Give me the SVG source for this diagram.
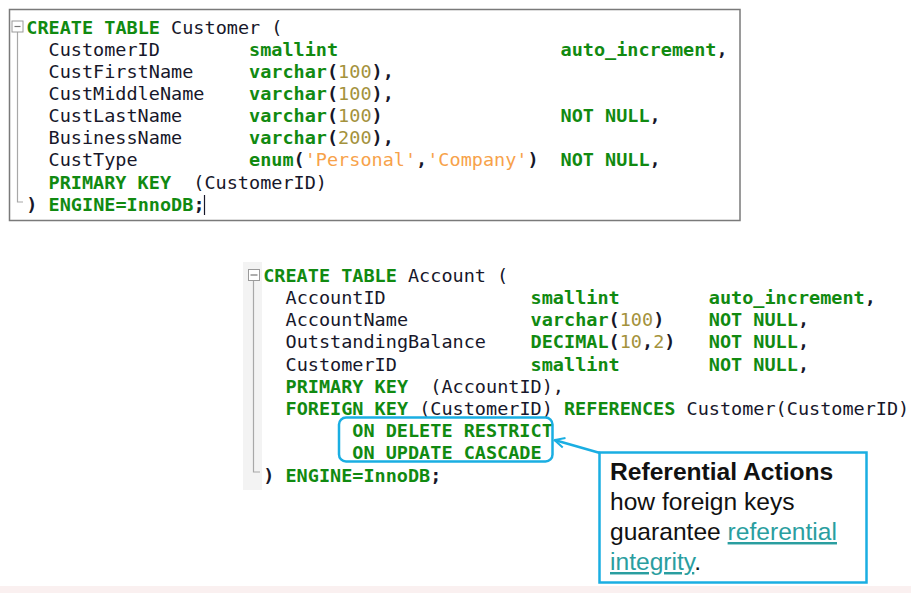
<svg xmlns="http://www.w3.org/2000/svg" width="911" height="593" viewBox="0 0 911 593">
<style>
  .code{font-family:"DejaVu Sans Mono","Liberation Mono",monospace;font-size:18.5px;white-space:pre;fill:#17172a}
  .kw{fill:#118a11;font-weight:bold}
  .pn{font-weight:bold;fill:#17172a}
  .num{fill:#a4923c}
  .str{fill:#f7a24a}
  .fold{fill:#ffffff;stroke:#9a9a9a;stroke-width:1}
  .foldline{fill:none;stroke:#a8a8a8;stroke-width:1.2}
  .hl{fill:none;stroke:#1aaee2;stroke-width:2.5}
  .note{font-family:"Liberation Sans",Arial,sans-serif;font-size:24.6px;fill:#111111}
  .link{fill:#2a9ea0;text-decoration:underline}
</style>
<defs>
  <marker id="open" viewBox="0 0 12 12" refX="11" refY="6" markerWidth="12" markerHeight="12" markerUnits="userSpaceOnUse" orient="auto">
    <path d="M1,1 L11,6 L1,11" fill="none" stroke="#1aaee2" stroke-width="2"/>
  </marker>
</defs>
<rect x="0" y="0" width="911" height="593" fill="#ffffff"/>
<rect x="0" y="586" width="911" height="7" fill="#faf0f0"/>

<g id="table-customer">
  <rect x="9.5" y="9.5" width="730.5" height="211" fill="#ffffff" stroke="#7a7a7a" stroke-width="1.5"/>
  <path class="foldline" d="M17.5,31 V202 H23"/>
  <rect class="fold" x="12" y="21" width="11" height="11"/>
  <path d="M14.5,26.5 H20.5" stroke="#777" stroke-width="1.2"/>
  <text class="code" xml:space="preserve" x="26.3" y="33.5"><tspan class="kw">CREATE TABLE</tspan> Customer (</text>
  <text class="code" y="55.65"><tspan x="48.5">CustomerID</tspan><tspan x="249" class="kw">smallint</tspan><tspan x="560.5" class="kw">auto_increment</tspan><tspan class="pn">,</tspan></text>
  <text class="code" y="77.8"><tspan x="48.5">CustFirstName</tspan><tspan x="249" class="kw">varchar</tspan><tspan class="pn">(</tspan><tspan class="num">100</tspan><tspan class="pn">),</tspan></text>
  <text class="code" y="99.95"><tspan x="48.5">CustMiddleName</tspan><tspan x="249" class="kw">varchar</tspan><tspan class="pn">(</tspan><tspan class="num">100</tspan><tspan class="pn">),</tspan></text>
  <text class="code" y="122.1"><tspan x="48.5">CustLastName</tspan><tspan x="249" class="kw">varchar</tspan><tspan class="pn">(</tspan><tspan class="num">100</tspan><tspan class="pn">)</tspan><tspan x="560.5" class="kw">NOT NULL</tspan><tspan class="pn">,</tspan></text>
  <text class="code" y="144.25"><tspan x="48.5">BusinessName</tspan><tspan x="249" class="kw">varchar</tspan><tspan class="pn">(</tspan><tspan class="num">200</tspan><tspan class="pn">),</tspan></text>
  <text class="code" y="166.4"><tspan x="48.5">CustType</tspan><tspan x="249" class="kw">enum</tspan><tspan class="pn">(</tspan><tspan class="str">'Personal'</tspan><tspan class="pn">,</tspan><tspan class="str">'Company'</tspan><tspan class="pn">)</tspan><tspan x="560.5" class="kw">NOT NULL</tspan><tspan class="pn">,</tspan></text>
  <text class="code" xml:space="preserve" x="48.5" y="188.55"><tspan class="kw">PRIMARY KEY</tspan>  (CustomerID)</text>
  <text class="code" xml:space="preserve" x="26.3" y="210.7"><tspan class="pn">)</tspan> <tspan class="kw">ENGINE=InnoDB</tspan><tspan class="pn">;</tspan></text>
  <path d="M204.5,195 V215" stroke="#17172a" stroke-width="1.2"/>
</g>

<g id="table-account">
  <rect x="243" y="262" width="19" height="228" fill="#f3f3f3"/>
  <path class="foldline" d="M253.5,280 V472 H260"/>
  <rect class="fold" x="248.5" y="269.5" width="11" height="11"/>
  <path d="M250.5,275 H257.5" stroke="#777" stroke-width="1.2"/>
  <text class="code" xml:space="preserve" x="263.2" y="281.7"><tspan class="kw">CREATE TABLE</tspan> Account (</text>
  <text class="code" y="303.9"><tspan x="285.5">AccountID</tspan><tspan x="530.6" class="kw">smallint</tspan><tspan x="708.8" class="kw">auto_increment</tspan><tspan class="pn">,</tspan></text>
  <text class="code" y="326.1"><tspan x="285.5">AccountName</tspan><tspan x="530.6" class="kw">varchar</tspan><tspan class="pn">(</tspan><tspan class="num">100</tspan><tspan class="pn">)</tspan><tspan x="708.8" class="kw">NOT NULL</tspan><tspan class="pn">,</tspan></text>
  <text class="code" y="348.3"><tspan x="285.5">OutstandingBalance</tspan><tspan x="530.6" class="kw">DECIMAL</tspan><tspan class="pn">(</tspan><tspan class="num">10</tspan><tspan class="pn">,</tspan><tspan class="num">2</tspan><tspan class="pn">)</tspan><tspan x="708.8" class="kw">NOT NULL</tspan><tspan class="pn">,</tspan></text>
  <text class="code" y="370.5"><tspan x="285.5">CustomerID</tspan><tspan x="530.6" class="kw">smallint</tspan><tspan x="708.8" class="kw">NOT NULL</tspan><tspan class="pn">,</tspan></text>
  <text class="code" xml:space="preserve" x="285.5" y="392.7"><tspan class="kw">PRIMARY KEY</tspan>  (AccountID),</text>
  <text class="code" xml:space="preserve" x="285.5" y="414.9"><tspan class="kw">FOREIGN KEY</tspan> (CustomerID) <tspan class="kw">REFERENCES</tspan> Customer(CustomerID)</text>
  <text class="code kw" x="352.3" y="437.1">ON DELETE RESTRICT</text>
  <text class="code kw" x="352.3" y="459.3">ON UPDATE CASCADE</text>
  <text class="code" xml:space="preserve" x="263.2" y="481.5"><tspan class="pn">)</tspan> <tspan class="kw">ENGINE=InnoDB</tspan><tspan class="pn">;</tspan></text>
  <rect id="referential-actions-highlight" class="hl" x="339" y="417.5" width="213.5" height="44" rx="7"/>
</g>

<g id="callout">
  <rect x="599.5" y="452.5" width="267" height="130" fill="#ffffff" stroke="#1aaee2" stroke-width="2.5"/>
  <text class="note" x="610" y="480" font-weight="bold">Referential Actions</text>
  <text class="note" x="610" y="510">how foreign keys</text>
  <text class="note" x="610" y="540">guarantee <tspan class="link">referential</tspan></text>
  <text class="note" x="610" y="570"><tspan class="link">integrity</tspan>.</text>
</g>

<g id="connectors">
  <path d="M600,453 L554.5,440" fill="none" stroke="#1aaee2" stroke-width="2.5" marker-end="url(#open)"/>
</g>
</svg>
